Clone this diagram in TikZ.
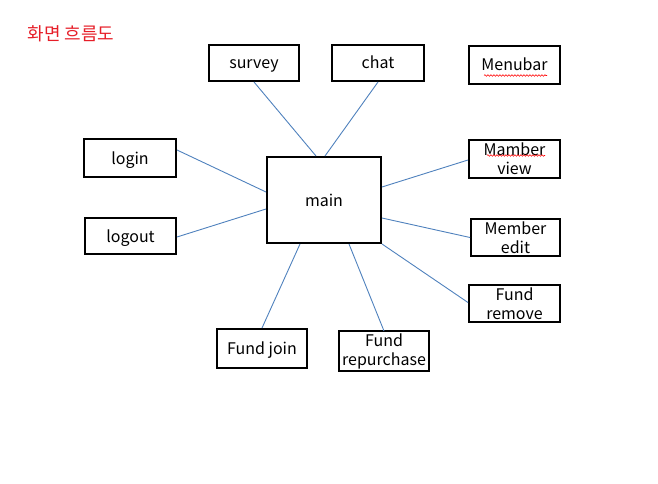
\documentclass[tikz,border=0pt]{standalone}
\usepackage{fontspec}
\setmainfont{Noto Sans CJK KR}
\usetikzlibrary{decorations.pathmorphing}
\definecolor{linkblue}{RGB}{79,129,189}
\definecolor{titlered}{RGB}{230,30,40}
\newcommand{\lowtxt}[1]{\raisebox{-6pt}[0pt][0pt]{#1}}
\tikzset{
  screen/.style={draw=black, line width=2pt, rectangle, inner sep=0pt, align=center,
    font=\fontsize{16}{19}\selectfont},
  link/.style={draw=linkblue, line width=0.9pt},
  squiggle/.style={draw=red, line width=0.6pt, decorate,
    decoration={snake, amplitude=0.8pt, segment length=3pt}},
}
\begin{document}
\begin{tikzpicture}[x=1pt,y=-1pt]
\useasboundingbox (0,0) rectangle (658,484);
\node[anchor=west, text=titlered, font=\fontsize{18}{20}\selectfont] (title) at (24,34) {화면 흐름도};

\node[screen, minimum width=90pt, minimum height=36pt] (survey) at (254,63) {\lowtxt{survey}};
\node[screen, minimum width=92pt, minimum height=36pt] (chat) at (378,63) {\lowtxt{chat}};
\node[screen, minimum width=91pt, minimum height=38pt] (menubar) at (514.5,65) {\lowtxt{Menubar}};
\node[screen, minimum width=92pt, minimum height=38pt] (login) at (130,158) {\lowtxt{login}};
\node[screen, minimum width=91pt, minimum height=36pt] (logout) at (130.5,236) {\lowtxt{logout}};
\node[screen, minimum width=114pt, minimum height=86pt] (main) at (324,200) {\lowtxt{main}};
\node[screen, minimum width=91pt, minimum height=38pt] (mview) at (514.5,159) {Mamber\\view};
\node[screen, minimum width=89pt, minimum height=37pt] (medit) at (515.5,237.5) {Member\\edit};
\node[screen, minimum width=91pt, minimum height=37pt] (fremove) at (514.5,303.5) {Fund\\remove};
\node[screen, minimum width=90pt, minimum height=39pt] (fjoin) at (262,348.5) {\lowtxt{Fund join}};
\node[screen, minimum width=90pt, minimum height=40pt] (frep) at (384,351) {Fund\\repurchase};

\draw[link] (survey.south) -- ([xshift=-8pt]main.north);
\draw[link] (chat.south) -- ([xshift=1pt]main.north);
\draw[link] ([yshift=8pt]login.east) -- ([yshift=8pt]main.west);
\draw[link] ([yshift=-1pt]logout.east) -- ([yshift=-9pt]main.west);
\draw[link] ([yshift=-1pt]mview.west) -- ([yshift=13pt]main.east);
\draw[link] ([yshift=0pt]medit.west) -- ([yshift=-18pt]main.east);
\draw[link] ([yshift=1pt]fremove.west) -- (main.south east);
\draw[link] (fjoin.north) -- ([xshift=-24pt]main.south);
\draw[link] ([yshift=-1pt]frep.north) -- ([xshift=25pt]main.south);

\coordinate (sq1a) at (484,75.5);
\coordinate (sq1b) at (547,75.5);
\coordinate (sq2a) at (487,155.5);
\coordinate (sq2b) at (545,155.5);
\draw[squiggle] (sq1a) -- (sq1b);
\draw[squiggle] (sq2a) -- (sq2b);
\end{tikzpicture}
\end{document}
